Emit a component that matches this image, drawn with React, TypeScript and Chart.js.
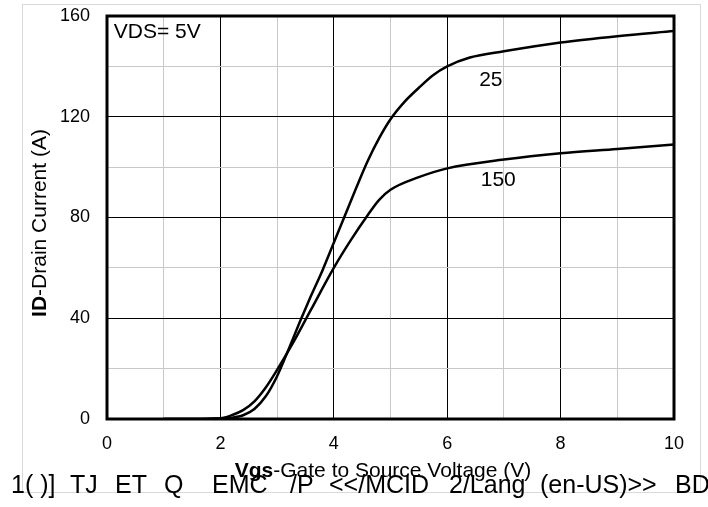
import React, { useEffect, useRef } from "react";
import { Chart, registerables } from "chart.js";

Chart.register(...registerables);

// Gate voltage (V) and drain current (A) for Tj = 25 °C
const vgs25 = [1, 1.5, 2, 2.2, 2.4, 2.6, 2.8, 3.0, 3.2, 3.4, 3.6, 3.8, 4.0, 4.2, 4.4, 4.6, 4.8, 5.0, 5.25, 5.5, 5.75, 6.0, 6.4, 7, 8, 9, 10];
const id25 = [0, 0, 0.2, 0.5, 1.5, 4, 9, 17, 27.5, 38.5, 49, 59, 70, 81, 92, 102.5, 111.5, 119, 126, 131.5, 136.5, 140, 143.5, 146, 149.5, 152, 154];

// Gate voltage (V) and drain current (A) for Tj = 150 °C
const vgs150 = [1, 1.5, 2, 2.2, 2.4, 2.6, 2.8, 3.0, 3.3, 3.6, 4.0, 4.3, 4.6, 4.8, 5.0, 5.5, 6, 7, 8, 9, 10];
const id150 = [0, 0, 0.3, 1.5, 3.5, 7, 12.5, 19.5, 31, 43.5, 60, 71, 81, 87, 91, 96, 99.5, 103, 105.5, 107.2, 109];

const xMajorTicks = [0, 2, 4, 6, 8, 10];
const yMajorTicks = [0, 40, 80, 120, 160];

const curveLabels = ["25", "150"];
const noteText = "VDS= 5V";
const xTitleBold = "Vgs";
const xTitleRest = "-Gate to Source Voltage (V)";
const yTitleBold = "ID";
const yTitleRest = "-Drain Current (A)";
const strayTokens = ["1( )]", "TJ", "ET", "Q", "EMC", "/P", "<</MCID", "2/Lang", "(en-US)>>", "BDC"];
const strayStarts = [11, 70, 115, 164, 212, 290, 329, 449, 540, 675];

const FONT = "'Liberation Sans', Arial, sans-serif";

function drawMixed(ctx: CanvasRenderingContext2D, bold: string, rest: string, cx: number, cy: number, size: number) {
  ctx.font = `bold ${size}px ${FONT}`;
  const wb = ctx.measureText(bold).width;
  ctx.font = `${size}px ${FONT}`;
  const wr = ctx.measureText(rest).width;
  const start = cx - (wb + wr) / 2;
  ctx.textAlign = "left";
  ctx.textBaseline = "middle";
  ctx.font = `bold ${size}px ${FONT}`;
  ctx.fillText(bold, start, cy);
  ctx.font = `${size}px ${FONT}`;
  ctx.fillText(rest, start + wb, cy);
}

const overlayPlugin = {
  id: "overlay",
  beforeDraw(chart: any) {
    const ctx = chart.ctx as CanvasRenderingContext2D;
    ctx.save();
    ctx.strokeStyle = "#d9d9d9";
    ctx.lineWidth = 1;
    ctx.strokeRect(22.5, 4.5, 678, 488);
    ctx.restore();
  },
  afterDraw(chart: any) {
    const ctx = chart.ctx as CanvasRenderingContext2D;
    const a = chart.chartArea;
    const xs = chart.scales.x;
    const ys = chart.scales.y;
    ctx.save();
    ctx.strokeStyle = "#000";
    ctx.lineWidth = 3;
    ctx.strokeRect(a.left, a.top, a.right - a.left, a.bottom - a.top);

    ctx.fillStyle = "#000";
    ctx.font = `21px ${FONT}`;
    ctx.textBaseline = "middle";
    ctx.textAlign = "left";
    ctx.fillText(noteText, xs.getPixelForValue(0.12), ys.getPixelForValue(153.6));
    ctx.textAlign = "center";
    ctx.fillText(curveLabels[0], xs.getPixelForValue(6.77), ys.getPixelForValue(134.4));
    ctx.fillText(curveLabels[1], xs.getPixelForValue(6.9), ys.getPixelForValue(94.7));

    drawMixed(ctx, xTitleBold, xTitleRest, 383, 471, 21);

    ctx.save();
    ctx.translate(40, 223);
    ctx.rotate(-Math.PI / 2);
    drawMixed(ctx, yTitleBold, yTitleRest, 0, 0, 21);
    ctx.restore();

    ctx.font = `25px ${FONT}`;
    ctx.textAlign = "left";
    ctx.textBaseline = "middle";
    strayTokens.forEach((t, i) => ctx.fillText(t, strayStarts[i], 486));
    ctx.restore();
  },
};

export default function App() {
  const ref = useRef<HTMLCanvasElement | null>(null);

  useEffect(() => {
    if (!ref.current) return;
    const toPts = (xs: number[], ys: number[]) => xs.map((v, i) => ({ x: v, y: ys[i] }));
    const chart = new Chart(ref.current, {
      type: "line",
      data: {
        datasets: [
          {
            label: "25",
            data: toPts(vgs25, id25),
            borderColor: "#000",
            borderWidth: 2.5,
            pointRadius: 0,
            fill: false,
            cubicInterpolationMode: "monotone",
          },
          {
            label: "150",
            data: toPts(vgs150, id150),
            borderColor: "#000",
            borderWidth: 2.5,
            pointRadius: 0,
            fill: false,
            cubicInterpolationMode: "monotone",
          },
        ],
      },
      options: {
        animation: false,
        responsive: false,
        devicePixelRatio: 1,
        layout: { padding: { left: 0, top: 16, right: 34, bottom: 0 } },
        plugins: { legend: { display: false }, tooltip: { enabled: false } },
        scales: {
          x: {
            type: "linear",
            min: 0,
            max: 10,
            afterFit: (s: any) => {
              s.height = 88;
              s.paddingLeft = 0;
              s.paddingRight = 0;
            },
            afterBuildTicks: (s: any) => {
              s.ticks = Array.from({ length: 11 }, (_, i) => ({ value: i }));
            },
            ticks: {
              color: "#000",
              font: { family: FONT, size: 18 },
              padding: 14,
              maxRotation: 0,
              autoSkip: false,
              callback: (v: any) => (xMajorTicks.includes(Number(v)) ? String(v) : ""),
            },
            grid: {
              drawTicks: false,
              color: (c: any) => (xMajorTicks.includes(c.tick?.value) ? "#000" : "#c8c8c8"),
              lineWidth: 1,
            },
            border: { display: false },
          },
          y: {
            type: "linear",
            min: 0,
            max: 160,
            afterFit: (s: any) => {
              s.width = 107;
              s.paddingTop = 0;
              s.paddingBottom = 0;
            },
            afterBuildTicks: (s: any) => {
              s.ticks = Array.from({ length: 9 }, (_, i) => ({ value: i * 20 }));
            },
            ticks: {
              color: "#000",
              font: { family: FONT, size: 18 },
              padding: 17,
              autoSkip: false,
              callback: (v: any) => (yMajorTicks.includes(Number(v)) ? String(v) : ""),
            },
            grid: {
              drawTicks: false,
              color: (c: any) => (yMajorTicks.includes(c.tick?.value) ? "#000" : "#c8c8c8"),
              lineWidth: 1,
            },
            border: { display: false },
          },
        },
      },
      plugins: [overlayPlugin],
    });
    return () => chart.destroy();
  }, []);

  return (
    <div style={{ position: "fixed", left: 0, top: 0, width: 708, height: 507, background: "#fff" }}>
      <canvas ref={ref} width={708} height={507} style={{ display: "block", width: 708, height: 507 }} />
    </div>
  );
}
